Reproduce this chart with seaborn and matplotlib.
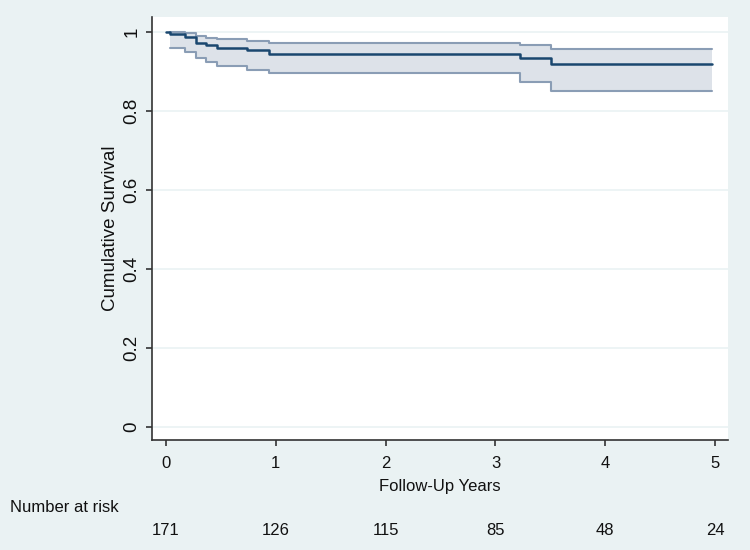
import numpy as np
import pandas as pd
import matplotlib
matplotlib.use('Agg')
import matplotlib.pyplot as plt
import seaborn as sns

# Kaplan-Meier estimate
times = [0, 0.04, 0.17, 0.27, 0.36, 0.46, 0.74, 0.94, 3.22, 3.51, 4.97]
surv = [1.0, 0.994, 0.986, 0.972, 0.965, 0.959, 0.953, 0.944, 0.933, 0.918, 0.918]

# confidence band starts at first event
ci_times = [0.04, 0.17, 0.27, 0.36, 0.46, 0.74, 0.94, 3.22, 3.51, 4.97]
ci_upper = [0.9995, 0.996, 0.989, 0.985, 0.981, 0.977, 0.971, 0.965, 0.956, 0.956]
ci_lower = [0.958, 0.948, 0.933, 0.923, 0.914, 0.903, 0.895, 0.872, 0.850, 0.850]

risk_years = [0, 1, 2, 3, 4, 5]
risk_counts = [171, 126, 115, 85, 48, 24]

km = pd.DataFrame({'years': times, 'survival': surv})

sns.set_theme(style='white')
plt.rcParams['font.family'] = ['Liberation Sans', 'DejaVu Sans']

bg = '#EAF2F3'
fs = 12      # horizontal text
fs_v = 13.5  # rotated text on y axis
fig = plt.figure(figsize=(7.5, 5.5), dpi=100, facecolor=bg)
ax = fig.add_axes([0.2027, 0.2, 0.768, 0.769])
ax.set_facecolor('white')

#CI band
ax.fill_between(ci_times, ci_lower, ci_upper, step='post', color='#DDE2E9', lw=0)
ax.step(ci_times, ci_upper, where='post', color='#8A9DB5', lw=1.5)
ax.step(ci_times, ci_lower, where='post', color='#8A9DB5', lw=1.5)

sns.lineplot(data=km, x='years', y='survival', drawstyle='steps-post',
             color='#1A476F', lw=1.8, ax=ax)

ax.set_xlim(-0.1275, 5.118)
ax.set_ylim(-0.0337, 1.037)
ax.set_xticks(risk_years)
ax.set_xticklabels([str(y) for y in risk_years])
ax.set_yticks([0, 0.2, 0.4, 0.6, 0.8, 1])
ax.set_yticklabels(['0', '0.2', '0.4', '0.6', '0.8', '1'], rotation=90, va='center')
ax.yaxis.grid(True, color=bg, lw=1.2)
ax.xaxis.grid(False)

for s in ['top', 'right']:
    ax.spines[s].set_visible(False)
for s in ['left', 'bottom']:
    ax.spines[s].set_color('#333333')
    ax.spines[s].set_linewidth(1.2)
ax.tick_params(axis='both', direction='out', length=4.5, width=1.2, color='#333333',
               labelcolor='#111111', left=True, bottom=True)
ax.tick_params(axis='y', pad=4, labelsize=fs_v)
ax.tick_params(axis='x', pad=7, labelsize=fs)

ax.set_xlabel('Follow-Up Years', fontsize=fs, color='#111111', labelpad=6)
ax.set_ylabel('Cumulative Survival', fontsize=fs_v, color='#111111', labelpad=3)

#Number at risk table
fig.text(10 / 750, 1 - 507 / 550, 'Number at risk', fontsize=fs, color='#111111',
         ha='left', va='center')
for yr, n in zip(risk_years, risk_counts):
    ax.annotate(str(n), xy=(yr, 0), xycoords=('data', 'axes fraction'),
                xytext=(0, -65), textcoords='offset points',
                ha='center', va='center', fontsize=fs, color='#111111')

fig.savefig('out.png', dpi=100, facecolor=bg)
